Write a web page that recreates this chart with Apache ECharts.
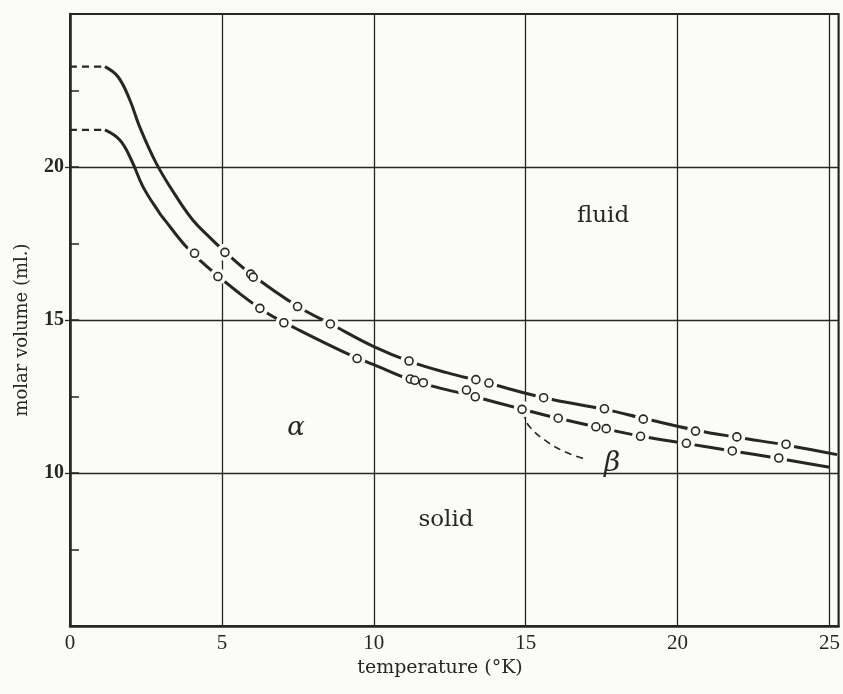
<!DOCTYPE html>
<html>
<head>
<meta charset="utf-8">
<script src="https://cdn.jsdelivr.net/npm/echarts@6/dist/echarts.min.js"></script>
<style>
html,body{margin:0;padding:0;background:#fbfbf8;}
#c{width:843px;height:694px;}
</style>
</head>
<body>
<div id="c"></div>
<script>
// x tick labels (temperature, K)
var xTicks = [0, 5, 10, 15, 20, 25];
// y tick labels (molar volume, ml)
var yTicks = [10, 15, 20];

// upper curve: extrapolated dashed part, then drawn curve, then measured points
var upperDashed = [[0, 23.28], [1.15, 23.28]];
var upperCurve = [[1.15, 23.28], [1.58, 22.95], [1.97, 22.19], [2.29, 21.32], [2.84, 20.12], [3.5, 19.03], [4.04, 18.27], [4.6, 17.7], [5.1, 17.23], [6.0, 16.47], [7.5, 15.44], [8.6, 14.86], [10, 14.13], [11.2, 13.64], [12.4, 13.28], [13.6, 12.98], [15.6, 12.46], [17.6, 12.08], [18.9, 11.78], [20.6, 11.4], [22.0, 11.16], [23.6, 10.91], [25.25, 10.6]];
var upperPoints = [[5.1, 17.21], [5.95, 16.5], [6.03, 16.4], [7.49, 15.44], [8.57, 14.87], [11.16, 13.66], [13.36, 13.05], [13.79, 12.94], [15.59, 12.46], [17.59, 12.1], [18.87, 11.76], [20.59, 11.37], [21.95, 11.18], [23.57, 10.94]];

// lower curve
var lowerDashed = [[0, 21.21], [1.15, 21.21]];
var lowerCurve = [[1.15, 21.21], [1.64, 20.88], [2.02, 20.23], [2.4, 19.36], [2.95, 18.49], [3.11, 18.28], [3.82, 17.4], [4.5, 16.75], [5.5, 15.93], [6.5, 15.22], [7.5, 14.69], [9.0, 13.96], [10, 13.54], [11.3, 13.02], [13.3, 12.5], [14.9, 12.08], [16.1, 11.78], [17.5, 11.47], [18.8, 11.2], [20.3, 10.96], [21.8, 10.72], [23.3, 10.48], [25, 10.19]];
var lowerPoints = [[4.1, 17.18], [4.87, 16.42], [6.25, 15.38], [7.04, 14.91], [9.45, 13.74], [11.2, 13.07], [11.35, 13.03], [11.63, 12.95], [13.05, 12.71], [13.34, 12.49], [14.88, 12.08], [16.07, 11.79], [17.31, 11.51], [17.65, 11.45], [18.78, 11.2], [20.29, 10.97], [21.8, 10.72], [23.33, 10.49]];

// beta branch (dashed)
var betaCurve = [[14.92, 12.0], [14.96, 11.84], [15.13, 11.51], [15.62, 11.08], [16.27, 10.7], [16.98, 10.45]];

var BG = '#fbfbf8';
var INK = '#262626';
var SERIF = '"DejaVu Serif", "Liberation Serif", serif';
var NUM = '"Liberation Serif", "DejaVu Serif", serif';

var chart = echarts.init(document.getElementById('c'), null, {renderer: 'canvas'});

function curve(data, dashed, width) {
  return {
    type: 'line', data: data, smooth: 0.4, showSymbol: false, symbol: 'none',
    lineStyle: {color: INK, width: width, type: dashed ? [7, 5] : 'solid'},
    silent: true, z: 3
  };
}
function halo(data) {
  return {type: 'scatter', data: data, symbol: 'circle', symbolSize: 17,
    itemStyle: {color: BG, borderWidth: 0, opacity: 1}, z: 4, silent: true};
}
function dots(data) {
  return {type: 'scatter', data: data, symbol: 'circle', symbolSize: 8,
    itemStyle: {color: BG, borderColor: INK, borderWidth: 1.6, opacity: 1}, z: 5, silent: true};
}

chart.setOption({
  backgroundColor: BG,
  animation: false,
  grid: {left: 70, right: 1, top: 14, bottom: 68, show: true, borderColor: INK, borderWidth: 2, backgroundColor: 'transparent'},
  xAxis: {
    type: 'value', min: 0, max: 25.3, interval: 5,
    axisLine: {show: true, onZero: false, lineStyle: {color: INK, width: 2.5}},
    axisTick: {show: false},
    axisLabel: {
      margin: 7, color: INK, fontFamily: NUM, fontSize: 21,
      showMaxLabel: false,
      formatter: function (v) { return xTicks.indexOf(v) >= 0 ? String(v) : ''; }
    },
    splitLine: {show: true, lineStyle: {color: INK, width: 1.3}}
  },
  yAxis: [{
    type: 'value', min: 5, max: 25, interval: 5, position: 'left',
    axisLine: {show: true, onZero: false, lineStyle: {color: INK, width: 2.5}},
    axisTick: {show: true, inside: false, length: 5, customValues: yTicks, lineStyle: {color: INK, width: 1.3}},
    axisLabel: {
      margin: 6, color: INK, fontFamily: NUM, fontSize: 20, fontWeight: 'bold',
      formatter: function (v) { return yTicks.indexOf(v) >= 0 ? String(v) : ''; }
    },
    splitLine: {show: true, lineStyle: {color: INK, width: 1.3}}
  }, {
    type: 'value', min: 5, max: 25, interval: 2.5, position: 'left', offset: 0,
    axisLine: {show: false},
    axisTick: {show: true, inside: true, length: 9, lineStyle: {color: INK, width: 1.5}},
    axisLabel: {show: false},
    splitLine: {show: false}
  }],
  series: [
    curve(upperDashed, true, 2.2),
    curve(lowerDashed, true, 2.2),
    curve(upperCurve, false, 3),
    curve(lowerCurve, false, 3),
    halo(upperPoints),
    halo(lowerPoints),
    curve(betaCurve, true, 1.6),
    dots(upperPoints),
    dots(lowerPoints)
  ],
  graphic: [
    {type: 'text', x: 603, y: 216, silent: true, style: {text: 'fluid', font: '23px ' + SERIF, fill: INK, align: 'center', verticalAlign: 'middle'}},
    {type: 'text', x: 446, y: 520, silent: true, style: {text: 'solid', font: '23px ' + SERIF, fill: INK, align: 'center', verticalAlign: 'middle'}},
    {type: 'text', x: 296, y: 428, silent: true, style: {text: 'α', font: 'italic 26px ' + SERIF, fill: INK, align: 'center', verticalAlign: 'middle'}},
    {type: 'text', x: 612, y: 464, silent: true, style: {text: 'β', font: 'italic 28px ' + SERIF, fill: INK, align: 'center', verticalAlign: 'middle'}},
    {type: 'text', x: 440, y: 668, silent: true, style: {text: 'temperature (°K)', font: '19px ' + SERIF, fill: INK, align: 'center', verticalAlign: 'middle'}},
    {type: 'text', x: 22, y: 330, rotation: Math.PI / 2, silent: true, style: {text: 'molar volume (ml.)', font: '18px ' + SERIF, fill: INK, align: 'center', verticalAlign: 'middle'}}
  ]
});
</script>
</body>
</html>
